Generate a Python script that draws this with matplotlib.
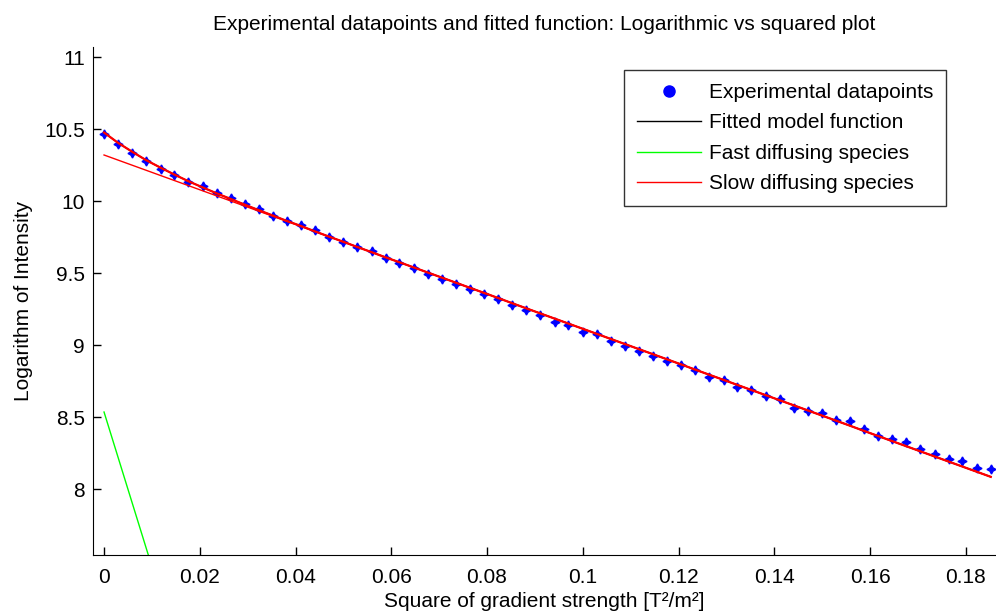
import matplotlib.pyplot as plt

plt.rcParams["font.family"] = ["Liberation Sans", "DejaVu Sans"]

# squared gradient strength [T^2/m^2]
x_data = [
    0.0000, 0.0029, 0.0059, 0.0088, 0.0118, 0.0147, 0.0176, 0.0206, 0.0235, 0.0265,
    0.0294, 0.0323, 0.0353, 0.0382, 0.0412, 0.0441, 0.0470, 0.0500, 0.0529, 0.0559,
    0.0588, 0.0617, 0.0647, 0.0676, 0.0706, 0.0735, 0.0764, 0.0794, 0.0823, 0.0853,
    0.0882, 0.0911, 0.0941, 0.0970, 0.1000, 0.1029, 0.1058, 0.1088, 0.1117, 0.1147,
    0.1176, 0.1205, 0.1235, 0.1264, 0.1294, 0.1323, 0.1352, 0.1382, 0.1411, 0.1441,
    0.1470, 0.1499, 0.1529, 0.1558, 0.1588, 0.1617, 0.1646, 0.1676, 0.1705, 0.1735,
    0.1764, 0.1793, 0.1823, 0.1852,
]

# log intensity, experimental
y_data = [
    10.467, 10.398, 10.331, 10.276, 10.224, 10.178, 10.132, 10.104, 10.058, 10.023,
    9.982, 9.945, 9.896, 9.861, 9.831, 9.796, 9.750, 9.715, 9.683, 9.653,
    9.602, 9.572, 9.533, 9.491, 9.456, 9.421, 9.389, 9.354, 9.320, 9.276,
    9.241, 9.210, 9.160, 9.139, 9.092, 9.074, 9.028, 8.993, 8.958, 8.924,
    8.889, 8.859, 8.824, 8.779, 8.756, 8.710, 8.688, 8.646, 8.623, 8.565,
    8.545, 8.527, 8.480, 8.470, 8.414, 8.366, 8.346, 8.325, 8.279, 8.246,
    8.211, 8.198, 8.148, 8.137,
]

# fitted model (two species) evaluated at the datapoints
y_fit = [
    10.476, 10.405, 10.342, 10.284, 10.232, 10.184, 10.138, 10.095, 10.054, 10.014,
    9.975, 9.937, 9.899, 9.862, 9.826, 9.789, 9.753, 9.717, 9.681, 9.645,
    9.609, 9.575, 9.539, 9.504, 9.468, 9.433, 9.398, 9.362, 9.327, 9.290,
    9.255, 9.220, 9.184, 9.149, 9.113, 9.078, 9.043, 9.007, 8.972, 8.936,
    8.901, 8.866, 8.829, 8.794, 8.758, 8.723, 8.688, 8.652, 8.617, 8.581,
    8.546, 8.511, 8.475, 8.440, 8.403, 8.368, 8.333, 8.297, 8.262, 8.226,
    8.191, 8.156, 8.120, 8.085,
]

x_fast = [0.0, 0.00925]
y_fast = [8.535, 7.542]

x_slow = [0.0, 0.1852]
y_slow = [10.32, 8.085]

x_ticks = [0, 0.02, 0.04, 0.06, 0.08, 0.1, 0.12, 0.14, 0.16, 0.18]
x_tick_labels = ["0", "0.02", "0.04", "0.06", "0.08", "0.1", "0.12", "0.14", "0.16", "0.18"]
y_ticks = [8, 8.5, 9, 9.5, 10, 10.5, 11]
y_tick_labels = ["8", "8.5", "9", "9.5", "10", "10.5", "11"]

fs = 15

fig = plt.figure(figsize=(9.96, 6.13), dpi=100)
ax = fig.add_axes([0.0934, 0.0946, 0.9066, 0.8292])

ax.plot(x_data, y_data, linestyle="none", marker=(4, 1, 0), markersize=6.5,
        color="#0000ff", label="Experimental datapoints")
ax.plot(x_data, y_fit, color="black", linewidth=1, label="Fitted model function")
ax.plot(x_fast, y_fast, color="#00ff00", linewidth=1, label="Fast diffusing species")
ax.plot(x_slow, y_slow, color="#ff0000", linewidth=1, label="Slow diffusing species")
ax.plot(x_data, y_fit, color="#ff0000", linewidth=1.6)

ax.set_xlim(-0.0023, 0.1863)
ax.set_ylim(7.542, 11.072)
ax.set_xticks(x_ticks)
ax.set_xticklabels(x_tick_labels)
ax.set_yticks(y_ticks)
ax.set_yticklabels(y_tick_labels)

for side in ["top", "right"]:
    ax.spines[side].set_visible(False)
ax.tick_params(direction="in", length=6, width=1, labelsize=fs)
ax.tick_params(axis="x", pad=9)
ax.tick_params(axis="y", pad=6)

ax.set_title("Experimental datapoints and fitted function: Logarithmic vs squared plot",
             fontsize=fs, pad=12)
ax.set_xlabel("Square of gradient strength [T²/m²]", fontsize=fs, labelpad=4)
ax.set_ylabel("Logarithm of Intensity", fontsize=fs, labelpad=8)

leg = ax.legend(loc="upper right", bbox_to_anchor=(0.9446, 0.954), borderaxespad=0,
                fontsize=fs, handlelength=3.1, handletextpad=0.35, labelspacing=0.55,
                borderpad=0.62, fancybox=False, frameon=True)
leg.get_frame().set_edgecolor("black")
leg.get_frame().set_linewidth(1)
dot = leg.legend_handles[0]
dot.set_marker("o")
dot.set_markersize(8)

fig.savefig("out.png", dpi=100)
